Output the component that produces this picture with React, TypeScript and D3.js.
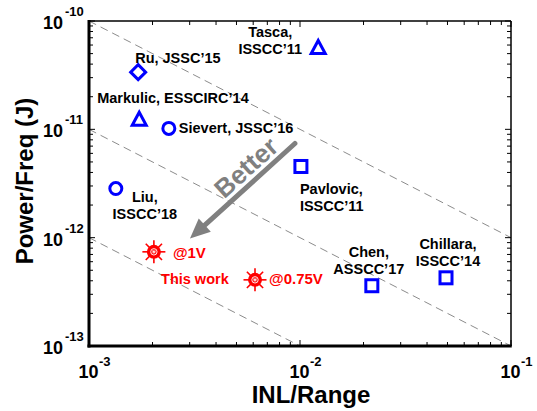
import * as d3 from 'd3';
import React from 'react';

// published converters: INL/Range (x) vs Power/Freq in J (y)
const works = [
  'Tasca, ISSCC’11',
  'Ru, JSSC’15',
  'Markulic, ESSCIRC’14',
  'Sievert, JSSC’16',
  'Liu, ISSCC’18',
  'Pavlovic, ISSCC’11',
  'Chen, ASSCC’17',
  'Chillara, ISSCC’14',
];
const inl = [0.0122, 0.00171, 0.00173, 0.00239, 0.00134, 0.0101, 0.0219, 0.0492];
const energy = [5.7e-11, 3.37e-11, 1.24e-11, 1.02e-11, 2.84e-12, 4.54e-12, 3.6e-13, 4.26e-13];
const shapes = ['triangle', 'diamond', 'triangle', 'circle', 'circle', 'square', 'square', 'square'];

// this work
const thisWorkLabels = ['@1V', '@0.75V'];
const thisWorkInl = [0.00203, 0.00612];
const thisWorkEnergy = [7.4e-13, 4.08e-13];

// constant FoM lines (INL * E)
const fomLines = [1e-13, 1e-14, 1e-15];

const xTicks = [1e-3, 1e-2, 1e-1];
const xTickExp = ['-3', '-2', '-1'];
const yTicks = [1e-13, 1e-12, 1e-11, 1e-10];
const yTickExp = ['-13', '-12', '-11', '-10'];

// arrow "Better" (data coords)
const arrowFrom = [9.46e-3, 7.4e-12];
const arrowTo = [3.01e-3, 9.8e-13];

// label layout: offsets from each marker, lines split at ", "
const labelLayout = [
  { dx: -48, dy: -10, anchor: 'middle', split: true },
  { dx: -3, dy: -9, anchor: 'start', split: false },
  { dx: -42, dy: -16, anchor: 'start', split: false },
  { dx: 10, dy: 5, anchor: 'start', split: false },
  { dx: 29, dy: 13, anchor: 'middle', split: true },
  { dx: -1, dy: 28, anchor: 'start', split: true },
  { dx: -3, dy: -29, anchor: 'middle', split: true },
  { dx: 2, dy: -29, anchor: 'middle', split: true },
];
const thisWorkLayout = [
  { dx: 19, dy: 6 },
  { dx: 14, dy: 4 },
];

const W = 537;
const H = 411;
const margin = { left: 89, right: 26, top: 21, bottom: 65 };
const font = 'Arial, "Liberation Sans", sans-serif';
const blue = '#0000ff';
const red = '#ff0000';
const grey = '#808080';

function Marker({ shape, cx, cy }: { shape: string; cx: number; cy: number }) {
  const common = { fill: 'none', stroke: blue, strokeWidth: 3 };
  if (shape === 'circle') return <circle cx={cx} cy={cy} r={6} {...common} />;
  if (shape === 'square') return <rect x={cx - 6} y={cy - 6} width={12} height={12} {...common} />;
  if (shape === 'diamond')
    return <path d={`M${cx},${cy - 7.5}L${cx + 7.5},${cy}L${cx},${cy + 7.5}L${cx - 7.5},${cy}Z`} {...common} />;
  return <path d={`M${cx},${cy - 7}L${cx + 7},${cy + 6}L${cx - 7},${cy + 6}Z`} {...common} strokeLinejoin="miter" />;
}

function StarMarker({ cx, cy }: { cx: number; cy: number }) {
  const rays = d3.range(8).map((i) => (i * Math.PI) / 4);
  return (
    <g>
      {rays.map((a, i) => (
        <line
          key={i}
          x1={cx}
          y1={cy}
          x2={cx + Math.cos(a) * 11.5}
          y2={cy + Math.sin(a) * 11.5}
          stroke={red}
          strokeWidth={1.6}
        />
      ))}
      <circle cx={cx} cy={cy} r={7} fill={red} />
      <circle cx={cx} cy={cy} r={3.2} fill="none" stroke="#fff" strokeWidth={0.9} />
      {rays.slice(0, 4).map((a, i) => (
        <line
          key={'w' + i}
          x1={cx - Math.cos(a) * 2}
          y1={cy - Math.sin(a) * 2}
          x2={cx + Math.cos(a) * 2}
          y2={cy + Math.sin(a) * 2}
          stroke="#fff"
          strokeWidth={0.7}
        />
      ))}
    </g>
  );
}

export default function App() {
  const x = d3.scaleLog().domain([1e-3, 1e-1]).range([margin.left, W - margin.right]);
  const y = d3.scaleLog().domain([1e-13, 1e-10]).range([H - margin.bottom, margin.top]);
  const [x0, x1] = x.range();
  const [y0, y1] = y.range();

  const xMinor = x.ticks(20);
  const yMinor = y.ticks(30);

  // dashed lines clipped to the plot
  const fomSegment = (k: number) => {
    const [xa, xb] = x.domain();
    const [ya, yb] = y.domain();
    const lo = Math.max(xa, k / yb);
    const hi = Math.min(xb, k / ya);
    return [
      [x(lo), y(k / lo)],
      [x(hi), y(k / hi)],
    ];
  };

  const ax = x(arrowFrom[0]);
  const ay = y(arrowFrom[1]);
  const bx = x(arrowTo[0]);
  const by = y(arrowTo[1]);
  const ang = Math.atan2(by - ay, bx - ax);
  const headLen = 20;
  const headHalf = 9;
  const hx = bx - Math.cos(ang) * headLen;
  const hy = by - Math.sin(ang) * headLen;
  const px = -Math.sin(ang) * headHalf;
  const py = Math.cos(ang) * headHalf;
  const textAngle = (ang * 180) / Math.PI + 180;

  return (
    <svg
      width={W}
      height={H}
      style={{ position: 'absolute', left: 0, top: 0, background: '#fff' }}
      fontFamily={font}
      fontWeight="bold"
    >
      <rect width={W} height={H} fill="#fff" />

      {fomLines.map((k) => {
        const [[sx, sy], [ex, ey]] = fomSegment(k);
        return (
          <line key={k} x1={sx} y1={sy} x2={ex} y2={ey} stroke="#8c8c8c" strokeWidth={1} strokeDasharray="8,5" />
        );
      })}

      {/* ticks on all four sides */}
      {xMinor.map((t) => {
        const major = xTicks.some((m) => Math.abs(m - t) / m < 1e-6);
        const len = major ? 6 : 4;
        return (
          <g key={'xt' + t} stroke="#000" strokeWidth={1}>
            <line x1={x(t)} x2={x(t)} y1={y0} y2={y0 - len} />
            <line x1={x(t)} x2={x(t)} y1={y1} y2={y1 + len} />
          </g>
        );
      })}
      {yMinor.map((t) => {
        const major = yTicks.some((m) => Math.abs(m - t) / m < 1e-6);
        const len = major ? 6 : 4;
        return (
          <g key={'yt' + t} stroke="#000" strokeWidth={1}>
            <line x1={x0} x2={x0 + len} y1={y(t)} y2={y(t)} />
            <line x1={x1} x2={x1 - len} y1={y(t)} y2={y(t)} />
          </g>
        );
      })}

      {/* frame */}
      <line x1={x0} x2={x1} y1={y1} y2={y1} stroke="#000" strokeWidth={1.5} />
      <line x1={x1} x2={x1} y1={y1} y2={y0} stroke="#000" strokeWidth={1.5} />
      <line x1={x0} x2={x0} y1={y1 - 1} y2={y0 + 1.5} stroke="#000" strokeWidth={3} />
      <line x1={x0 - 1.5} x2={x1 + 0.75} y1={y0} y2={y0} stroke="#000" strokeWidth={3} />

      {/* tick labels */}
      {xTicks.map((t, i) => (
        <g key={'xl' + t}>
          <text x={x(t) - 0.5} y={378} fontSize={18} textAnchor="middle">
            10
          </text>
          <text x={x(t) + 10} y={366} fontSize={13}>
            {xTickExp[i]}
          </text>
        </g>
      ))}
      {yTicks.map((t, i) => (
        <g key={'yl' + t}>
          <text x={63} y={y(t) + 8} fontSize={18} textAnchor="end">
            10
          </text>
          <text x={65} y={y(t) - 5} fontSize={13}>
            {yTickExp[i]}
          </text>
        </g>
      ))}

      {/* axis titles */}
      <text x={311} y={403} fontSize={24} textAnchor="middle">
        INL/Range
      </text>
      <text transform={`translate(33,181) rotate(-90)`} fontSize={24} textAnchor="middle">
        Power/Freq (J)
      </text>

      {/* arrow */}
      <line x1={ax} y1={ay} x2={hx} y2={hy} stroke={grey} strokeWidth={5} strokeLinecap="round" />
      <path d={`M${bx},${by}L${hx + px},${hy + py}L${hx - px},${hy - py}Z`} fill={grey} />
      <text
        transform={`translate(${(ax + bx) / 2 + 5},${(ay + by) / 2 - 22}) rotate(${textAngle})`}
        fontSize={26}
        fill={grey}
        textAnchor="middle"
        dominantBaseline="middle"
      >
        Better
      </text>

      {/* prior works */}
      {works.map((name, i) => {
        const cx = x(inl[i]);
        const cy = y(energy[i]);
        const lay = labelLayout[i];
        const lines = lay.split ? [name.split(', ')[0] + ',', name.split(', ')[1]] : [name];
        return (
          <g key={name}>
            <Marker shape={shapes[i]} cx={cx} cy={cy} />
            {lines.map((l, j) => (
              <text key={j} x={cx + lay.dx} y={cy + lay.dy + j * 17} fontSize={14.5} textAnchor={lay.anchor}>
                {l}
              </text>
            ))}
          </g>
        );
      })}

      {/* this work */}
      {thisWorkLabels.map((lab, i) => {
        const cx = x(thisWorkInl[i]);
        const cy = y(thisWorkEnergy[i]);
        return (
          <g key={lab}>
            <StarMarker cx={cx} cy={cy} />
            <text x={cx + thisWorkLayout[i].dx} y={cy + thisWorkLayout[i].dy} fontSize={15} fill={red}>
              {lab}
            </text>
          </g>
        );
      })}
      <text
        x={x(thisWorkInl[0]) + 41}
        y={y(thisWorkEnergy[0]) + 32}
        fontSize={14.5}
        fill={red}
        textAnchor="middle"
      >
        This work
      </text>
    </svg>
  );
}
